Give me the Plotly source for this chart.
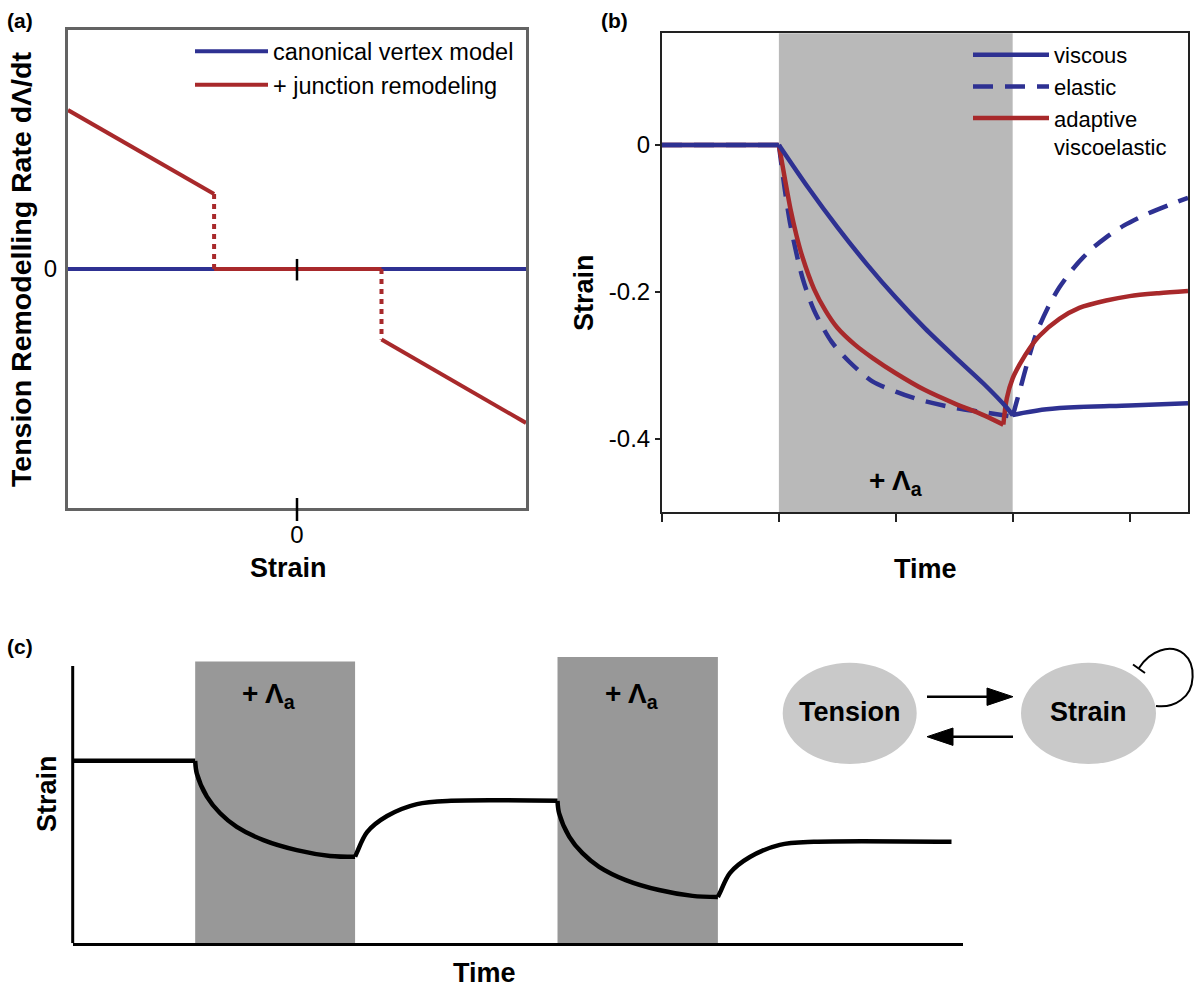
import plotly.graph_objects as go

W, H = 1200, 990
BLUE = "#2E3192"
RED = "#A8292B"
FONT = "Liberation Sans, Arial, sans-serif"

def px(x):
    return x / W

def py(y):
    return 1 - y / H

# ---------------- Panel (a) data ----------------
a_canon_strain = [-1.0, 1.0]
a_canon_rate = [0.0, 0.0]
a_remod_strain = [-1.0, -0.362, -0.362, 0.369, 0.369, 1.0]
a_remod_rate = [0.665, 0.314, 0.0, 0.0, -0.295, -0.644]
a_xtick_vals = [0]
a_xtick_text = ["0"]
a_ytick_vals = [0]
a_ytick_text = ["0"]

# ---------------- Panel (b) data ----------------
b_visc_time = [0.0, 1.0, 1.25, 1.5, 1.75, 2.0, 2.25, 2.5, 2.75, 2.95, 3.0, 3.09, 3.29, 3.57, 4.0, 4.5]
b_visc_strain = [0.0, 0.0, -0.058, -0.112, -0.162, -0.208, -0.25, -0.288, -0.325, -0.358, -0.368, -0.365, -0.36,
                 -0.357, -0.355, -0.352]

b_elas_time = [0.0, 1.0, 1.05, 1.1, 1.2, 1.3, 1.45, 1.6, 1.8, 2.0, 2.2, 2.5, 2.75, 3.0, 3.03, 3.06,
               3.12, 3.2, 3.3, 3.4, 3.52, 3.66, 3.8, 3.95, 4.15, 4.35, 4.5]
b_elas_strain = [0.0, 0.0, -0.06, -0.11, -0.18, -0.225, -0.268, -0.295, -0.322, -0.336, -0.347, -0.358, -0.364,
                 -0.370, -0.352, -0.335, -0.300, -0.258, -0.222, -0.194, -0.168, -0.144, -0.126, -0.110,
                 -0.094, -0.081, -0.072]

b_adapt_time = [0.0, 1.0, 1.05, 1.1, 1.15, 1.2, 1.3, 1.4, 1.5, 1.65, 1.8, 2.0, 2.25, 2.5, 2.75, 2.92,
                2.95, 3.0, 3.06, 3.15, 3.23, 3.4, 3.57, 3.8, 4.0, 4.25, 4.5]
b_adapt_strain = [0.0, 0.0, -0.045, -0.088, -0.123, -0.152, -0.196, -0.226, -0.249, -0.272, -0.29, -0.311,
                  -0.334, -0.352, -0.368, -0.381, -0.345, -0.318, -0.299, -0.276, -0.260, -0.237, -0.222,
                  -0.212, -0.206, -0.202, -0.199]

b_pulse_start = [1.0]
b_pulse_end = [3.0]
b_xtick_vals = [0, 1, 2, 3, 4]
b_ytick_vals = [0, -0.2, -0.4]
b_ytick_text = ["0", "-0.2", "-0.4"]

# ---------------- Panel (c) data ----------------
c_time = [-0.766, 0.0, 0.01, 0.073, 0.156, 0.26, 0.427, 0.635, 0.844, 1.0, 1.0125, 1.075, 1.2, 1.3875, 1.6,
          2.266, 2.276, 2.339, 2.422, 2.526, 2.693, 2.901, 3.11, 3.269, 3.281, 3.344, 3.469, 3.656, 3.869, 4.73]
c_strain = [0.658, 0.658, 0.613, 0.529, 0.469, 0.42, 0.372, 0.336, 0.315, 0.312, 0.329, 0.401, 0.459, 0.502, 0.514,
            0.514, 0.469, 0.385, 0.325, 0.276, 0.228, 0.192, 0.171, 0.167, 0.181, 0.253, 0.311, 0.355, 0.366, 0.366]
c_pulse_start = [0.0, 2.266]
c_pulse_end = [1.0, 3.269]
c_pulse_top = [1.016, 1.0325]
c_label_x = [0.46, 2.73]


def split_at(xs, ys, breaks):
    """Join curve pieces with gaps so each phase is smoothed on its own (break points repeated)."""
    out_x, out_y = [], []
    idx = [0] + [xs.index(b) for b in breaks] + [len(xs) - 1]
    for i0, i1 in zip(idx[:-1], idx[1:]):
        out_x += xs[i0:i1 + 1] + [None]
        out_y += ys[i0:i1 + 1] + [None]
    return out_x[:-1], out_y[:-1]


def min_time(xs, ys):
    return xs[ys.index(min(ys))]


fig = go.Figure()

# ---- (a) traces ----
fig.add_trace(go.Scatter(x=a_canon_strain, y=a_canon_rate, mode="lines", name="canonical vertex model",
                         line=dict(color=BLUE, width=4), xaxis="x", yaxis="y", legend="legend"))
solid_x, solid_y, dot_x, dot_y = [], [], [], []
for i in (0, 2, 4):
    solid_x += a_remod_strain[i:i + 2] + [None]
    solid_y += a_remod_rate[i:i + 2] + [None]
for i in (1, 3):
    dot_x += a_remod_strain[i:i + 2] + [None]
    dot_y += a_remod_rate[i:i + 2] + [None]
fig.add_trace(go.Scatter(x=solid_x, y=solid_y, mode="lines", name="+ junction remodeling",
                         line=dict(color=RED, width=4), xaxis="x", yaxis="y", legend="legend",
                         legendgroup="remod"))
fig.add_trace(go.Scatter(x=dot_x, y=dot_y, mode="lines", showlegend=False,
                         line=dict(color=RED, width=4, dash="5px,5px"), xaxis="x", yaxis="y",
                         legendgroup="remod"))

# ---- (b) traces ----
spl = dict(shape="spline", smoothing=0.8)
ex, ey = split_at(b_elas_time, b_elas_strain, [b_pulse_start[0], min_time(b_elas_time, b_elas_strain)])
fig.add_trace(go.Scatter(x=ex, y=ey, mode="lines", name="elastic", connectgaps=False,
                         line=dict(color=BLUE, width=4.5, dash="20px,12px", **spl), xaxis="x2", yaxis="y2",
                         legend="legend2", legendrank=2))
rx, ry = split_at(b_adapt_time, b_adapt_strain, [b_pulse_start[0], min_time(b_adapt_time, b_adapt_strain)])
fig.add_trace(go.Scatter(x=rx, y=ry, mode="lines", name="adaptive<br>viscoelastic", connectgaps=False,
                         line=dict(color=RED, width=4.5, **spl), xaxis="x2", yaxis="y2",
                         legend="legend2", legendrank=3))
vx, vy = split_at(b_visc_time, b_visc_strain, [b_pulse_start[0], min_time(b_visc_time, b_visc_strain)])
fig.add_trace(go.Scatter(x=vx, y=vy, mode="lines", name="viscous", connectgaps=False,
                         line=dict(color=BLUE, width=4.5, **spl), xaxis="x2", yaxis="y2",
                         legend="legend2", legendrank=1))

# ---- (c) trace ----
cx, cy = split_at(c_time, c_strain, sorted(c_pulse_start + c_pulse_end))
fig.add_trace(go.Scatter(x=cx, y=cy, mode="lines", showlegend=False, connectgaps=False,
                         line=dict(color="black", width=4.5, shape="spline", smoothing=0.9),
                         xaxis="x3", yaxis="y3"))

shapes = []
# (a) tick marks crossing the axes
shapes.append(dict(type="line", xref="x", yref="paper", x0=0, x1=0, y0=py(521), y1=py(498),
                   line=dict(color="black", width=2.5)))
shapes.append(dict(type="line", xref="x", yref="y", x0=0, x1=0, y0=-0.048, y1=0.042,
                   line=dict(color="black", width=2.5)))
# (b) stimulation window
for s, e in zip(b_pulse_start, b_pulse_end):
    shapes.append(dict(type="rect", xref="x2", yref="y2 domain", x0=s, x1=e, y0=0, y1=1,
                       fillcolor="#b9b9b9", line=dict(width=0), layer="below"))
# (c) stimulation windows
for s, e, t in zip(c_pulse_start, c_pulse_end, c_pulse_top):
    shapes.append(dict(type="rect", xref="x3", yref="y3", x0=s, x1=e, y0=0, y1=t,
                       fillcolor="#989898", line=dict(width=0), layer="below"))
# (c) vertical axis line
shapes.append(dict(type="line", xref="paper", yref="y3", x0=px(72.7), x1=px(72.7), y0=0, y1=1.0,
                   line=dict(color="black", width=3)))

# (c) diagram: ellipses
shapes.append(dict(type="circle", xref="paper", yref="paper", x0=px(782.7), x1=px(916.7),
                   y0=py(764), y1=py(662.7), fillcolor="#c9c9c9", line=dict(width=0)))
shapes.append(dict(type="circle", xref="paper", yref="paper", x0=px(1021), x1=px(1156),
                   y0=py(764), y1=py(662.7), fillcolor="#c9c9c9", line=dict(width=0)))
# arrows
shapes.append(dict(type="line", xref="paper", yref="paper", x0=px(927), x1=px(990),
                   y0=py(696.7), y1=py(696.7), line=dict(color="black", width=2.5)))
shapes.append(dict(type="path", xref="paper", yref="paper",
                   path=f"M{px(987)},{py(688)} L{px(1013)},{py(696.7)} L{px(987)},{py(705.4)} Z",
                   fillcolor="black", line=dict(color="black", width=1)))
shapes.append(dict(type="line", xref="paper", yref="paper", x0=px(950), x1=px(1013),
                   y0=py(736.7), y1=py(736.7), line=dict(color="black", width=2.5)))
shapes.append(dict(type="path", xref="paper", yref="paper",
                   path=f"M{px(953)},{py(728)} L{px(927)},{py(736.7)} L{px(953)},{py(745.4)} Z",
                   fillcolor="black", line=dict(color="black", width=1)))
# self-inhibition loop
p = [(1139, 668), (1150, 651), (1170, 643), (1184, 654), (1196, 664), (1196, 690), (1181, 700),
     (1173, 706), (1164, 707), (1156, 706)]
loop_path = (f"M{px(p[0][0])},{py(p[0][1])} "
             f"C{px(p[1][0])},{py(p[1][1])} {px(p[2][0])},{py(p[2][1])} {px(p[3][0])},{py(p[3][1])} "
             f"C{px(p[4][0])},{py(p[4][1])} {px(p[5][0])},{py(p[5][1])} {px(p[6][0])},{py(p[6][1])} "
             f"C{px(p[7][0])},{py(p[7][1])} {px(p[8][0])},{py(p[8][1])} {px(p[9][0])},{py(p[9][1])}")
shapes.append(dict(type="path", xref="paper", yref="paper", path=loop_path,
                   line=dict(color="black", width=2)))
shapes.append(dict(type="line", xref="paper", yref="paper", x0=px(1133), x1=px(1145),
                   y0=py(664.5), y1=py(673), line=dict(color="black", width=2)))

annotations = []
def txt(x, y, text, size, bold=True, xref="paper", yref="paper", angle=0, xanchor="center", yanchor="middle"):
    t = f"<b>{text}</b>" if bold else text
    annotations.append(dict(x=x, y=y, xref=xref, yref=yref, text=t, showarrow=False, textangle=angle,
                            xanchor=xanchor, yanchor=yanchor,
                            font=dict(family=FONT, size=size, color="black")))

# panel labels
txt(px(20), py(20), "(a)", 21)
txt(px(614), py(20), "(b)", 21)
txt(px(20), py(646), "(c)", 21)
# axis titles
txt(px(21), py(270), "Tension Remodelling Rate dΛ/dt", 28.5, angle=-90)
txt(px(288), py(568), "Strain", 27)
txt(px(584), py(293), "Strain", 27, angle=-90)
txt(px(925), py(569), "Time", 27)
txt(px(47), py(794), "Strain", 27, angle=-90)
txt(px(484), py(973), "Time", 27)
# stimulus labels
txt(2.0, -0.46, "+ Λ<sub>a</sub>", 28, xref="x2", yref="y2")
for lx in c_label_x:
    txt(lx, 0.895, "+ Λ<sub>a</sub>", 28, xref="x3", yref="y3")
# diagram labels
txt(px(849.7), py(712), "Tension", 27)
txt(px(1088.5), py(712), "Strain", 27)

fig.update_layout(
    width=W, height=H, margin=dict(l=0, r=0, t=0, b=0),
    paper_bgcolor="white", plot_bgcolor="rgba(0,0,0,0)",
    font=dict(family=FONT, size=24, color="black"),
    showlegend=True,
    shapes=shapes, annotations=annotations,
    xaxis=dict(domain=[px(68), px(526)], range=[-1, 1], showline=True, mirror=True, linecolor="#636363",
               linewidth=3, tickmode="array", tickvals=a_xtick_vals, ticktext=a_xtick_text, ticks="outside",
               ticklen=3, tickwidth=2.5, tickcolor="rgba(0,0,0,0)", tickfont=dict(size=24),
               showgrid=False, zeroline=False, anchor="y", fixedrange=True),
    yaxis=dict(domain=[py(508), py(30)], range=[-1, 1], showline=True, mirror=True, linecolor="#636363",
               linewidth=3, tickmode="array", tickvals=a_ytick_vals, ticktext=a_ytick_text, ticks="outside",
               ticklen=3, tickcolor="rgba(0,0,0,0)", tickfont=dict(size=24),
               showgrid=False, zeroline=False, anchor="x", fixedrange=True),
    xaxis2=dict(domain=[px(662), px(1188)], range=[0, 4.5], showline=True, mirror=True, linecolor="#222222",
                linewidth=2, tickmode="array", tickvals=b_xtick_vals, showticklabels=False, ticks="outside",
                ticklen=8, tickwidth=2, tickcolor="#222222", showgrid=False, zeroline=False, anchor="y2",
                fixedrange=True),
    yaxis2=dict(domain=[py(512), py(33.3)], range=[-0.5, 0.152], showline=True, mirror=True,
                linecolor="#222222", linewidth=2, tickmode="array", tickvals=b_ytick_vals, ticktext=b_ytick_text,
                ticks="outside", ticklen=5, tickwidth=2, tickcolor="#222222", tickfont=dict(size=24),
                showgrid=False, zeroline=False, anchor="x2", fixedrange=True),
    xaxis3=dict(domain=[px(72.7), px(962.7)], range=[-0.766, 4.8], showline=True, mirror=False,
                linecolor="black", linewidth=3, showticklabels=False, ticks="", showgrid=False,
                zeroline=False, anchor="y3", fixedrange=True),
    yaxis3=dict(domain=[py(943.3), py(657)], range=[0, 1.0325], showline=False, showticklabels=False,
                ticks="", showgrid=False, zeroline=False, anchor="x3", fixedrange=True),
    legend=dict(x=px(190), y=py(29.5), xanchor="left", yanchor="top", bgcolor="rgba(0,0,0,0)",
                font=dict(family=FONT, size=23.5, color="black"), itemwidth=73, tracegroupgap=0),
    legend2=dict(x=px(968), y=py(34), xanchor="left", yanchor="top", bgcolor="rgba(0,0,0,0)",
                 font=dict(family=FONT, size=22, color="black"), itemwidth=76, valign="top",
                 tracegroupgap=0),
)

fig.write_html("out.html", config={"displayModeBar": False},
               post_script="document.body.style.margin='0px';")
